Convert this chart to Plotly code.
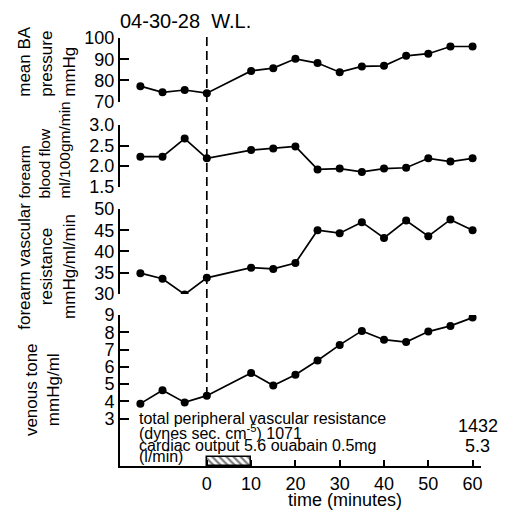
import plotly.graph_objects as go

# ---- data ----
time_min = [-15, -10, -5, 0, 10, 15, 20, 25, 30, 35, 40, 45, 50, 55, 60]
ba_pressure = [77.3, 74.4, 75.5, 74.0, 84.5, 85.8, 90.2, 88.2, 83.9, 86.6, 86.9, 91.6, 92.6, 96.0, 96.0]
blood_flow = [2.23, 2.23, 2.67, 2.19, 2.39, 2.43, 2.48, 1.92, 1.94, 1.86, 1.94, 1.96, 2.19, 2.11, 2.19]
vasc_resistance = [34.9, 33.6, 29.9, 33.8, 36.2, 35.9, 37.3, 45.0, 44.3, 46.9, 43.2, 47.3, 43.6, 47.5, 45.0]
venous_tone = [3.87, 4.64, 3.94, 4.33, 5.64, 4.92, 5.54, 6.37, 7.27, 8.08, 7.57, 7.43, 8.04, 8.37, 8.85]

ouabain_start, ouabain_end = 0, 10
x_ticks = [0, 10, 20, 30, 40, 50, 60]
y1_ticks = [70, 80, 90, 100]
y2_ticks = [1.5, 2.0, 2.5, 3.0]
y3_ticks = [30, 35, 40, 45, 50]
y4_ticks = [3, 4, 5, 6, 7, 8, 9]

FONT = "Liberation Sans, Arial, sans-serif"
BLACK = "black"

fig = go.Figure()

series = [(ba_pressure, "y"), (blood_flow, "y2"), (vasc_resistance, "y3"), (venous_tone, "y4")]
for vals, ax in series:
    fig.add_trace(go.Scatter(
        x=time_min, y=vals, yaxis=ax, xaxis="x", mode="lines+markers",
        line=dict(color=BLACK, width=1.7),
        marker=dict(color=BLACK, size=8),
        showlegend=False, hoverinfo="skip"))

y4_bottom = 0.26
fig.add_trace(go.Bar(
    x=[(ouabain_start + ouabain_end) / 2], width=[ouabain_end - ouabain_start],
    base=[y4_bottom], y=[0.52], yaxis="y4", xaxis="x",
    marker=dict(color="white", line=dict(color=BLACK, width=1.5),
                pattern=dict(shape="\\", fgcolor=BLACK, size=5, solidity=0.45)),
    showlegend=False, hoverinfo="skip"))

yax_common = dict(showline=True, linecolor=BLACK, linewidth=2, ticks="inside",
                  ticklen=9, tickwidth=2, tickcolor=BLACK, showgrid=False,
                  zeroline=False, anchor="x",
                  tickfont=dict(family=FONT, size=18, color=BLACK))

fig.update_layout(
    width=510, height=510,
    margin=dict(l=120, r=29, t=38, b=44),
    paper_bgcolor="white", plot_bgcolor="white",
    bargap=0,
    xaxis=dict(range=[-19.6, 61.9], showline=True, linecolor=BLACK, linewidth=2,
               ticks="inside", ticklen=6, tickwidth=2, tickcolor=BLACK,
               tickvals=x_ticks, ticktext=[str(v) for v in x_ticks],
               showgrid=False, zeroline=False, anchor="y4",
               tickfont=dict(family=FONT, size=18, color=BLACK)),
    yaxis=dict(domain=[0.8512, 1.0], range=[70, 100], tickvals=y1_ticks, **yax_common),
    yaxis2=dict(domain=[0.6526, 0.7967], range=[1.5, 3.0], tickvals=y2_ticks,
                ticktext=["1.5", "2.0", "2.5", "3.0"], **yax_common),
    yaxis3=dict(domain=[0.4019, 0.6005], range=[30, 50], tickvals=y3_ticks, **yax_common),
    yaxis4=dict(domain=[0.0, 0.3528], range=[y4_bottom, 9], tickvals=y4_ticks, **yax_common),
)

# dashed vertical line at time 0
fig.add_shape(type="line", xref="x", yref="paper", x0=0, x1=0, y0=0.1636, y1=1.0117,
              line=dict(color=BLACK, width=1.7, dash="9px,5px"))

ann = []
def A(text, x, y, size, xanchor="center", yanchor="middle", angle=0, align="center", xref="paper", yref="paper"):
    ann.append(dict(text=text, x=x, y=y, xref=xref, yref=yref, xanchor=xanchor,
                    yanchor=yanchor, textangle=angle, align=align, showarrow=False,
                    font=dict(family=FONT, size=size, color=BLACK)))

A("04-30-28  W.L.", -0.005, 1.0386, 20, xanchor="left")
A("mean BA<br>pressure<br>mmHg", -0.202, 0.857, 17, yanchor="bottom", angle=-90, align="left")
A("forearm<br>blood flow<br>ml/100gm/min", -0.208, 0.621, 15.5, yanchor="bottom", angle=-90, align="left")
A("forearm vascular<br>resistance<br>mmHg/ml/min", -0.202, 0.4656, 17, angle=-90)
A("venous tone<br>mmHg/ml", -0.213, 0.1776, 17, angle=-90)

A("total peripheral vascular resistance", 0.048, 0.1121, 16, xanchor="left")
A("(dynes sec. cm<sup>-5</sup>) 1071", 0.048, 0.0801, 16, xanchor="left")
A("cardiac output 5.6 ouabain 0.5mg", 0.048, 0.0474, 16, xanchor="left")
A("(l/min)", 0.048, 0.0217, 16, xanchor="left")
A("1432", 1.0526, 0.0935, 18, xanchor="right")
A("5.3", 1.0296, 0.0474, 18, xanchor="right")
A("time (minutes)", 0.623, -0.0794, 18)

fig.update_layout(annotations=ann)
fig.write_html("out.html")
